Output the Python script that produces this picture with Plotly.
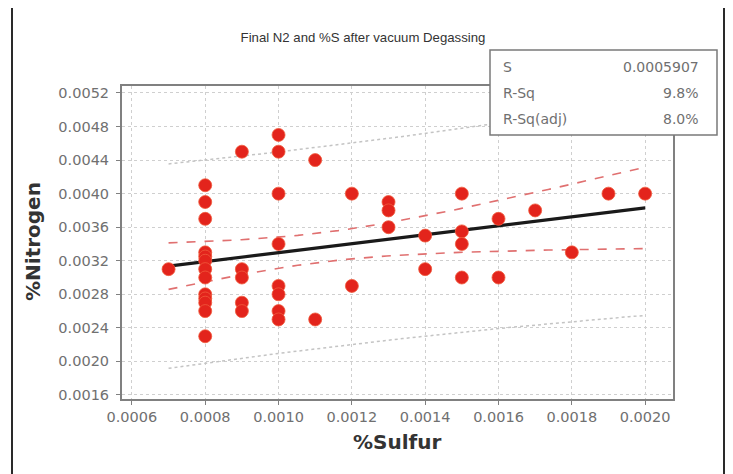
import numpy as np
import plotly.graph_objects as go

# ---- data ----
sulfur = [0.0007,
          0.0008, 0.0008, 0.0008, 0.0008, 0.0008, 0.0008, 0.0008, 0.0008, 0.0008, 0.0008, 0.0008, 0.0008, 0.0008,
          0.0009, 0.0009, 0.0009, 0.0009, 0.0009,
          0.0010, 0.0010, 0.0010, 0.0010, 0.0010, 0.0010, 0.0010, 0.0010,
          0.0011, 0.0011,
          0.0012, 0.0012,
          0.0013, 0.0013, 0.0013,
          0.0014, 0.0014,
          0.0015, 0.0015, 0.0015, 0.0015,
          0.0016, 0.0016,
          0.0017, 0.0018, 0.0019, 0.0020]
nitrogen = [0.0031,
            0.0041, 0.0039, 0.0037, 0.0033, 0.00325, 0.0032, 0.0031, 0.0030, 0.0028, 0.00275, 0.0027, 0.0026, 0.0023,
            0.0045, 0.0031, 0.0030, 0.0027, 0.0026,
            0.0047, 0.0045, 0.0040, 0.0034, 0.0029, 0.0028, 0.0026, 0.0025,
            0.0044, 0.0025,
            0.0040, 0.0029,
            0.0039, 0.0038, 0.0036,
            0.0035, 0.0031,
            0.0040, 0.00355, 0.0034, 0.0030,
            0.0037, 0.0030,
            0.0038, 0.0033, 0.0040, 0.0040]

x_ticks = [0.0006, 0.0008, 0.0010, 0.0012, 0.0014, 0.0016, 0.0018, 0.0020]
y_ticks = [0.0016, 0.0020, 0.0024, 0.0028, 0.0032, 0.0036, 0.0040, 0.0044, 0.0048, 0.0052]

stat_labels = ["S", "R-Sq", "R-Sq(adj)"]
stat_values = ["0.0005907", "9.8%", "8.0%"]

title_text = "Final N2 and %S after vacuum Degassing"
x_title = "%Sulfur"
y_title = "%Nitrogen"
t_crit = 2.01

# ---- regression with confidence and prediction intervals ----
x = np.array(sulfur)
y = np.array(nitrogen)
n = len(x)
b1, b0 = np.polyfit(x, y, 1)
resid = y - (b0 + b1 * x)
s = np.sqrt(np.sum(resid ** 2) / (n - 2))
xm = x.mean()
sxx = np.sum((x - xm) ** 2)
xf = np.linspace(x.min(), x.max(), 60)
yf = b0 + b1 * xf
se_mean = s * np.sqrt(1 / n + (xf - xm) ** 2 / sxx)
se_pred = s * np.sqrt(1 + 1 / n + (xf - xm) ** 2 / sxx)

FONT = "DejaVu Sans"
GRAY = "#707070"

fig = go.Figure()
for band in (yf + t_crit * se_pred, yf - t_crit * se_pred):
    fig.add_trace(go.Scatter(x=xf, y=band, mode="lines",
                             line=dict(color="#c4c4c4", width=1.5, dash="dot"),
                             hoverinfo="skip", showlegend=False))
for band in (yf + t_crit * se_mean, yf - t_crit * se_mean):
    fig.add_trace(go.Scatter(x=xf, y=band, mode="lines",
                             line=dict(color="#e07070", width=1.6, dash="dash"),
                             hoverinfo="skip", showlegend=False))
fig.add_trace(go.Scatter(x=xf, y=yf, mode="lines",
                         line=dict(color="#1a1a1a", width=3.2),
                         showlegend=False))
fig.add_trace(go.Scatter(x=sulfur, y=nitrogen, mode="markers",
                         marker=dict(color="#e3241c", size=13,
                                     line=dict(color="#f05a3c", width=0.8)),
                         showlegend=False))

# page body adds an 8px offset; work in screen coordinates and shift
OFF = 8
W, H = 733 - OFF, 474 - OFF
L, T = 122 - OFF, 86 - OFF
R = W - (673 - OFF)
B = H - (399 - OFF)
PW, PH = W - L - R, H - T - B


def px(xs):
    return (xs - OFF - L) / PW


def py(ys):
    return (H - B - (ys - OFF)) / PH


axis_common = dict(
    showgrid=True, gridcolor="#cfcfcf", griddash="dot", gridwidth=1,
    zeroline=False, showline=True, linecolor="#808080", linewidth=2, mirror=True,
    ticks="outside", ticklen=4, tickcolor="#808080",
    tickfont=dict(family=FONT, size=14.5, color=GRAY),
)

fig.update_layout(
    width=W, height=H,
    margin=dict(l=L, r=R, t=T, b=B),
    paper_bgcolor="white", plot_bgcolor="white",
    title=dict(text=title_text, x=(363 - OFF) / W, xanchor="center",
               y=1 - (37 - OFF) / H, yanchor="middle",
               font=dict(family="Liberation Sans", size=13.2, color="#333333")),
    xaxis=dict(range=[0.000573, 0.002076], tickvals=x_ticks,
               ticktext=[f"{v:.4f}" for v in x_ticks], **axis_common),
    yaxis=dict(range=[0.001552, 0.005283], tickvals=y_ticks, ticklabelstandoff=4,
               ticktext=[f"{v:.4f}" for v in y_ticks], **axis_common),
    showlegend=False,
)

shapes = [
    dict(type="rect", xref="paper", yref="paper",
         x0=px(12), x1=px(724), y0=py(490), y1=py(5),
         line=dict(color="#2a2a2a", width=2), fillcolor="rgba(0,0,0,0)", layer="below"),
    dict(type="rect", xref="paper", yref="paper",
         x0=px(490), x1=px(717), y0=py(135), y1=py(50),
         line=dict(color="#7a7a7a", width=1.5), fillcolor="white", layer="above"),
]
fig.update_layout(shapes=shapes)

annotations = []
row_y = [67, 93, 119]
for lab, val, yy in zip(stat_labels, stat_values, row_y):
    annotations.append(dict(x=px(501), y=py(yy), xref="paper", yref="paper", text=lab,
                            showarrow=False, xanchor="left", yanchor="middle",
                            font=dict(family=FONT, size=14, color=GRAY)))
    annotations.append(dict(x=px(701), y=py(yy), xref="paper", yref="paper", text=val,
                            showarrow=False, xanchor="right", yanchor="middle",
                            font=dict(family=FONT, size=14, color=GRAY)))
annotations.append(dict(x=px(397), y=py(442), xref="paper", yref="paper", text=f"<b>{x_title}</b>",
                        showarrow=False, xanchor="center", yanchor="middle",
                        font=dict(family=FONT, size=20, color="#333333")))
annotations.append(dict(x=px(33), y=py(242), xref="paper", yref="paper", text=f"<b>{y_title}</b>",
                        showarrow=False, xanchor="center", yanchor="middle", textangle=-90,
                        font=dict(family=FONT, size=20, color="#333333")))
fig.update_layout(annotations=annotations)

fig.write_html("out.html")
